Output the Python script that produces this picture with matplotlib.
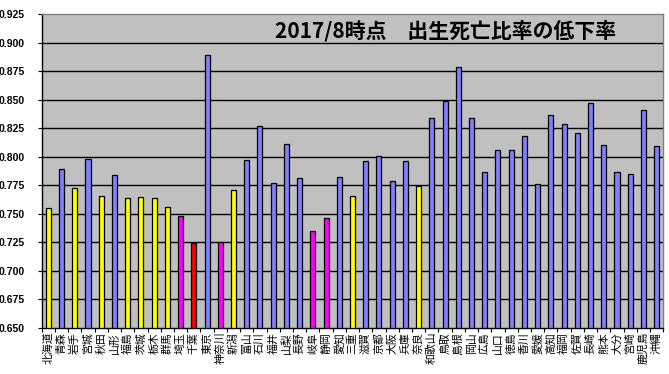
import matplotlib
matplotlib.use("Agg")
import matplotlib.pyplot as plt
import numpy as np

prefectures = ["北海道", "青森", "岩手", "宮城", "秋田", "山形", "福島", "茨城", "栃木", "群馬",
               "埼玉", "千葉", "東京", "神奈川", "新潟", "富山", "石川", "福井", "山梨", "長野",
               "岐阜", "静岡", "愛知", "三重", "滋賀", "京都", "大阪", "兵庫", "奈良", "和歌山",
               "鳥取", "島根", "岡山", "広島", "山口", "徳島", "香川", "愛媛", "高知", "福岡",
               "佐賀", "長崎", "熊本", "大分", "宮崎", "鹿児島", "沖縄"]
values = [0.755, 0.789, 0.773, 0.798, 0.766, 0.784, 0.764, 0.765, 0.764, 0.756,
          0.748, 0.724, 0.889, 0.725, 0.771, 0.797, 0.827, 0.777, 0.811, 0.781,
          0.735, 0.746, 0.782, 0.766, 0.796, 0.801, 0.779, 0.796, 0.774, 0.834,
          0.849, 0.879, 0.834, 0.787, 0.806, 0.806, 0.818, 0.776, 0.837, 0.829,
          0.821, 0.847, 0.810, 0.787, 0.785, 0.841, 0.809]
groups = ["Y", "B", "Y", "B", "Y", "B", "Y", "Y", "Y", "Y",
          "M", "R", "B", "M", "Y", "B", "B", "B", "B", "B",
          "M", "M", "B", "Y", "B", "B", "B", "B", "Y", "B",
          "B", "B", "B", "B", "B", "B", "B", "B", "B", "B",
          "B", "B", "B", "B", "B", "B", "B"]
yticks = [0.650, 0.675, 0.700, 0.725, 0.750, 0.775, 0.800, 0.825, 0.850, 0.875, 0.900, 0.925]
title = "2017/8時点　出生死亡比率の低下率"

palette = {"Y": "#FFFF00", "B": "#8080FF", "M": "#FF00FF", "R": "#FF0000"}

plt.rcParams['font.family'] = ['Noto Sans CJK JP', 'DejaVu Sans']

fig = plt.figure(figsize=(6.69, 3.74), dpi=100)
W, H = 669, 374
left, right, top, bottom = 41.7, 663.3, 14.3, 327.7
ax = fig.add_axes([left / W, 1 - bottom / H, (right - left) / W, (bottom - top) / H])
ax.set_facecolor("#C0C0C0")

x = np.arange(len(prefectures))
ymin = 0.650
ax.bar(x, np.array(values) - ymin, bottom=ymin, width=0.38,
       color=[palette[g] for g in groups], edgecolor="black", linewidth=0.9, zorder=3)

ax.set_xlim(-0.5, len(prefectures) - 0.5)
ax.set_ylim(0.650, 0.925)
ax.set_yticks(yticks)
ax.set_yticklabels([f"{v:.3f}" for v in yticks], fontsize=7.5, fontweight="bold",
                   family=['Liberation Sans', 'DejaVu Sans'])
for v in yticks[1:-1]:
    ax.axhline(v, color="black", linewidth=1.0, zorder=1)

ax.set_xticks(x)
ax.set_xticklabels(prefectures, rotation=90, fontsize=7.8, va="top", ha="center")
ax.set_xticks(np.arange(-0.5, len(prefectures), 1), minor=True)
ax.tick_params(axis="x", which="major", length=0, pad=3)
ax.tick_params(axis="x", which="minor", length=3, width=0.8, color="black")
ax.tick_params(axis="y", length=3, width=0.8, pad=9)

for s in ["top", "right"]:
    ax.spines[s].set_color("#808080")
    ax.spines[s].set_linewidth(1.0)
for s in ["left", "bottom"]:
    ax.spines[s].set_color("black")
    ax.spines[s].set_linewidth(1.0)

ax.text(446 / W, 1 - 31 / H, title, transform=fig.transFigure, ha="center", va="center",
        fontsize=15, fontweight="bold", color="black", zorder=5)

fig.savefig("out.png", dpi=100, facecolor="white")
